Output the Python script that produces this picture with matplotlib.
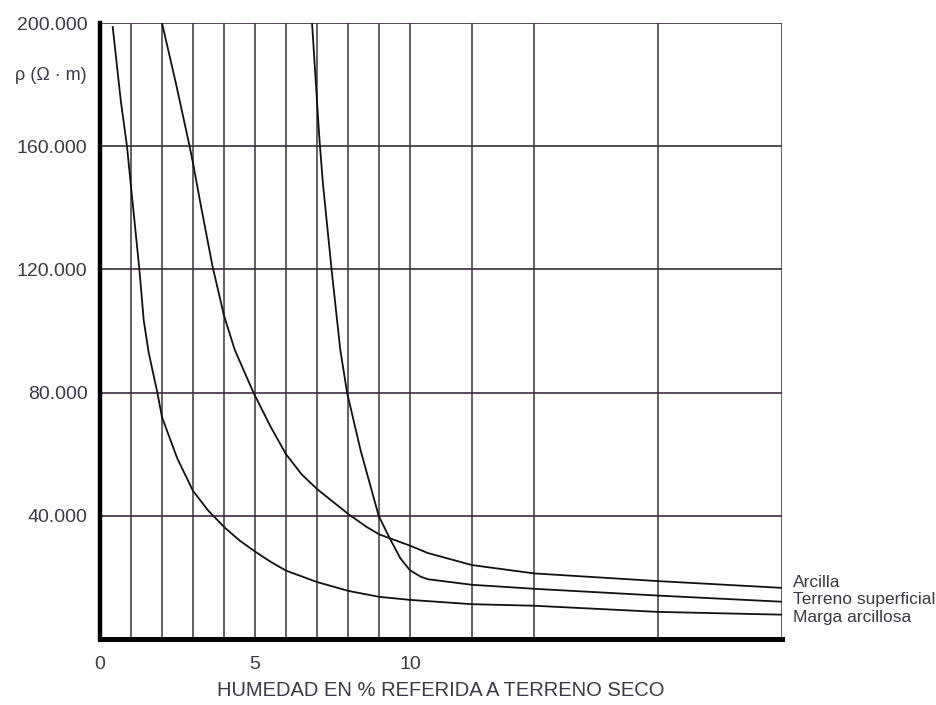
import matplotlib
matplotlib.use('Agg')
import matplotlib.pyplot as plt

plt.rcParams['font.family'] = ['Liberation Sans', 'DejaVu Sans']

# curvas (humedad %, resistividad ohm*m)
marga_x = [0.41, 0.67, 0.87, 1.0, 1.27, 1.41, 1.57, 1.85, 2.0, 2.49, 3.0, 3.49, 4.03,
           4.5, 5.0, 5.5, 6.0, 7.0, 8.02, 9.0, 10.0, 12, 14, 18, 22]
marga_y = [198700, 174800, 160000, 146900, 120000, 103500, 93000, 80000, 72000, 58700,
           48100, 41700, 36100, 32000, 28400, 25100, 22200, 18500, 15600, 13700, 12700,
           11300, 10800, 8800, 7900]

arcilla_x = [2.0, 2.46, 2.89, 3.0, 3.23, 3.63, 4.0, 4.35, 4.95, 5.5, 6.0, 6.5, 7.0,
             8.02, 8.6, 9.0, 10.0, 10.58, 12, 14, 18, 22]
arcilla_y = [200000, 179900, 160000, 154500, 142000, 121000, 105000, 93800, 80000,
             69000, 60000, 53500, 48700, 40500, 36400, 34000, 30300, 27900, 24000,
             21300, 18800, 16600]

terreno_x = [6.84, 7.08, 7.19, 7.47, 7.75, 7.97, 8.41, 8.99, 9.34, 9.69, 10.0, 10.35,
             10.58, 12, 14, 18, 22]
terreno_y = [200000, 162000, 148000, 120000, 94000, 80000, 61100, 40000, 32800, 26200,
             22300, 20200, 19400, 17600, 16300, 14100, 12100]

nombres = ['Arcilla', 'Terreno superficial', 'Marga arcillosa']

v_lines = [1, 2, 3, 4, 5, 6, 7, 8, 9, 10, 12, 14, 18, 22]
h_lines = [40000, 80000, 120000, 160000, 200000]
x_ticks = [0, 5, 10]
y_ticks = [40000, 80000, 120000, 160000, 200000]
y_labels = ['40.000', '80.000', '120.000', '160.000', '200.000']

txt = '#3a3a48'

fig = plt.figure(figsize=(9.36, 7.05), dpi=100)
ax = fig.add_axes([100 / 936, 66 / 705, 682 / 936, 616 / 705])

for x in v_lines:
    ax.axvline(x, color='#55555e', lw=1.3, zorder=1)
for y in h_lines:
    ax.axhline(y, color='#3b2c3e', lw=1.2, zorder=1)

for xs, ys in [(arcilla_x, arcilla_y), (terreno_x, terreno_y), (marga_x, marga_y)]:
    ax.plot(xs, ys, color='#111111', lw=1.3, zorder=3)

ax.set_xlim(0, 22)
ax.set_ylim(0, 200000)

for s in ['top', 'right']:
    ax.spines[s].set_visible(False)
ax.spines['left'].set_linewidth(3.2)
ax.spines['bottom'].set_linewidth(3.6)
ax.spines['left'].set_zorder(4)
ax.spines['bottom'].set_zorder(4)

ax.set_xticks(x_ticks)
ax.set_xticklabels([str(v) for v in x_ticks])
ax.set_yticks(y_ticks)
ax.set_yticklabels(y_labels)
ax.tick_params(axis='both', length=0, labelsize=14, labelcolor=txt)
ax.tick_params(axis='y', pad=9)
ax.tick_params(axis='x', pad=12)

fig.text(441 / 936, 1 - 690 / 705, 'HUMEDAD EN % REFERIDA A TERRENO SECO',
         ha='center', va='center', fontsize=14.5, color=txt)
fig.text(87 / 936, 1 - 76 / 705, 'ρ (Ω · m)', ha='right', va='center',
         fontsize=13, color=txt)

for nombre, yv in zip(nombres, [18300, 12700, 7000]):
    ax.text(22.34, yv, nombre, ha='left', va='center', fontsize=12.5, color=txt,
            clip_on=False)

fig.savefig('out.png', dpi=100, facecolor='white')
